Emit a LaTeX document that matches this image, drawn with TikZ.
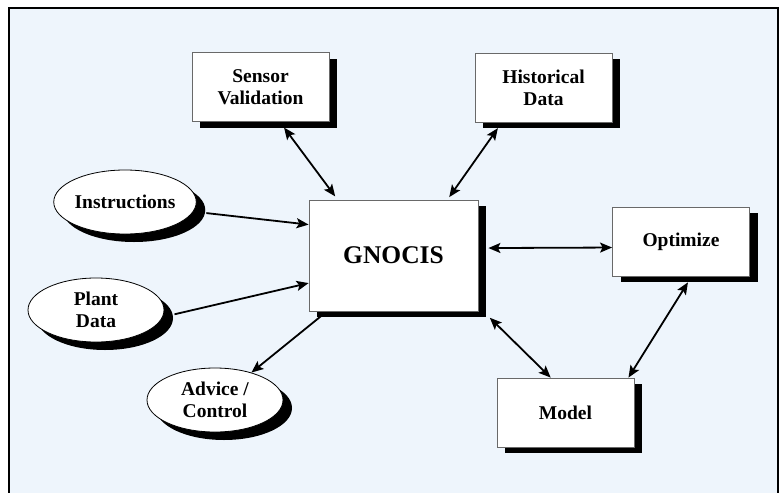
\documentclass[tikz,border=0pt]{standalone}
\usepackage{fontspec}
\setmainfont{Liberation Serif}
\usetikzlibrary{shapes.geometric, arrows.meta, shadows}

\definecolor{hintergrund}{RGB}{238,245,252}
\definecolor{rahmen}{RGB}{105,105,105}

\tikzset{
  kasten/.style={draw=rahmen, line width=0.8pt, fill=white, inner sep=0pt,
    align=center, font=\bfseries\fontsize{19.5}{22}\selectfont,
    minimum width=137pt, minimum height=69pt,
    drop shadow={shadow xshift=8pt, shadow yshift=-6pt, opacity=1, fill=black}},
  oval/.style={ellipse, draw=black, line width=0.8pt, fill=white, inner sep=0pt,
    align=center, font=\bfseries\fontsize{19.5}{22}\selectfont,
    minimum width=136pt, minimum height=64pt,
    drop shadow={shadow xshift=9pt, shadow yshift=-8pt, opacity=1, fill=black}},
  spitze/.tip={Stealth[length=12pt, width=10pt, inset=2.5pt]},
  pfeil/.style={-spitze, line width=1.8pt},
  doppelpfeil/.style={spitze-spitze, line width=1.8pt}
}

\begin{document}
\begin{tikzpicture}[x=1pt, y=-1pt]
	\useasboundingbox (0,0) rectangle (780,493);
	
	% Hintergrund und Rahmen
	\fill[hintergrund] (9,8) rectangle (778,493);
	\draw[line width=2.2pt] (9,493) -- (9,8) -- (778,8) -- (778,493);
	
	% Kaesten
	\node[kasten] (sv) at (260.5,87) {Sensor\\Validation};
	\node[kasten] (hd) at (543.5,87.5) {Historical\\Data};
	\node[kasten, minimum width=169pt, minimum height=111pt,
	  font=\bfseries\fontsize{25.5}{28}\selectfont] (gn) at (393.5,255.5) {GNOCIS};
	\node[kasten] (op) at (681,241.5) {Optimize};
	\node[kasten] (md) at (565.5,412.5) {Model};
	
	% Ellipsen
	\node[oval] (ins) at (125,202) {Instructions};
	\node[oval] (pd) at (96,310) {Plant\\Data};
	\node[oval] (ac) at (215,400) {Advice /\\Control};
	
	% Verbindungen
	\draw[doppelpfeil, shorten <=7pt, shorten >=4pt] (sv.-61) -- (gn.135);
	\draw[doppelpfeil, shorten <=7pt, shorten >=3pt] (hd.220) -- (gn.46);
	\draw[pfeil, shorten <=13pt] (ins.-8) -- (gn.160);
	\draw[pfeil, shorten <=12pt] (pd.-6) -- (gn.198);
	\draw[pfeil, shorten <=7pt] (gn.220) -- (ac.37);
	\draw[doppelpfeil, shorten <=10pt] (gn.5) -- (op.185.5);
	\draw[doppelpfeil, shorten <=16pt] (gn.-31) -- (md.113);
	\draw[doppelpfeil, shorten <=7pt] (op.-73) -- (md.29);
\end{tikzpicture}
\end{document}
